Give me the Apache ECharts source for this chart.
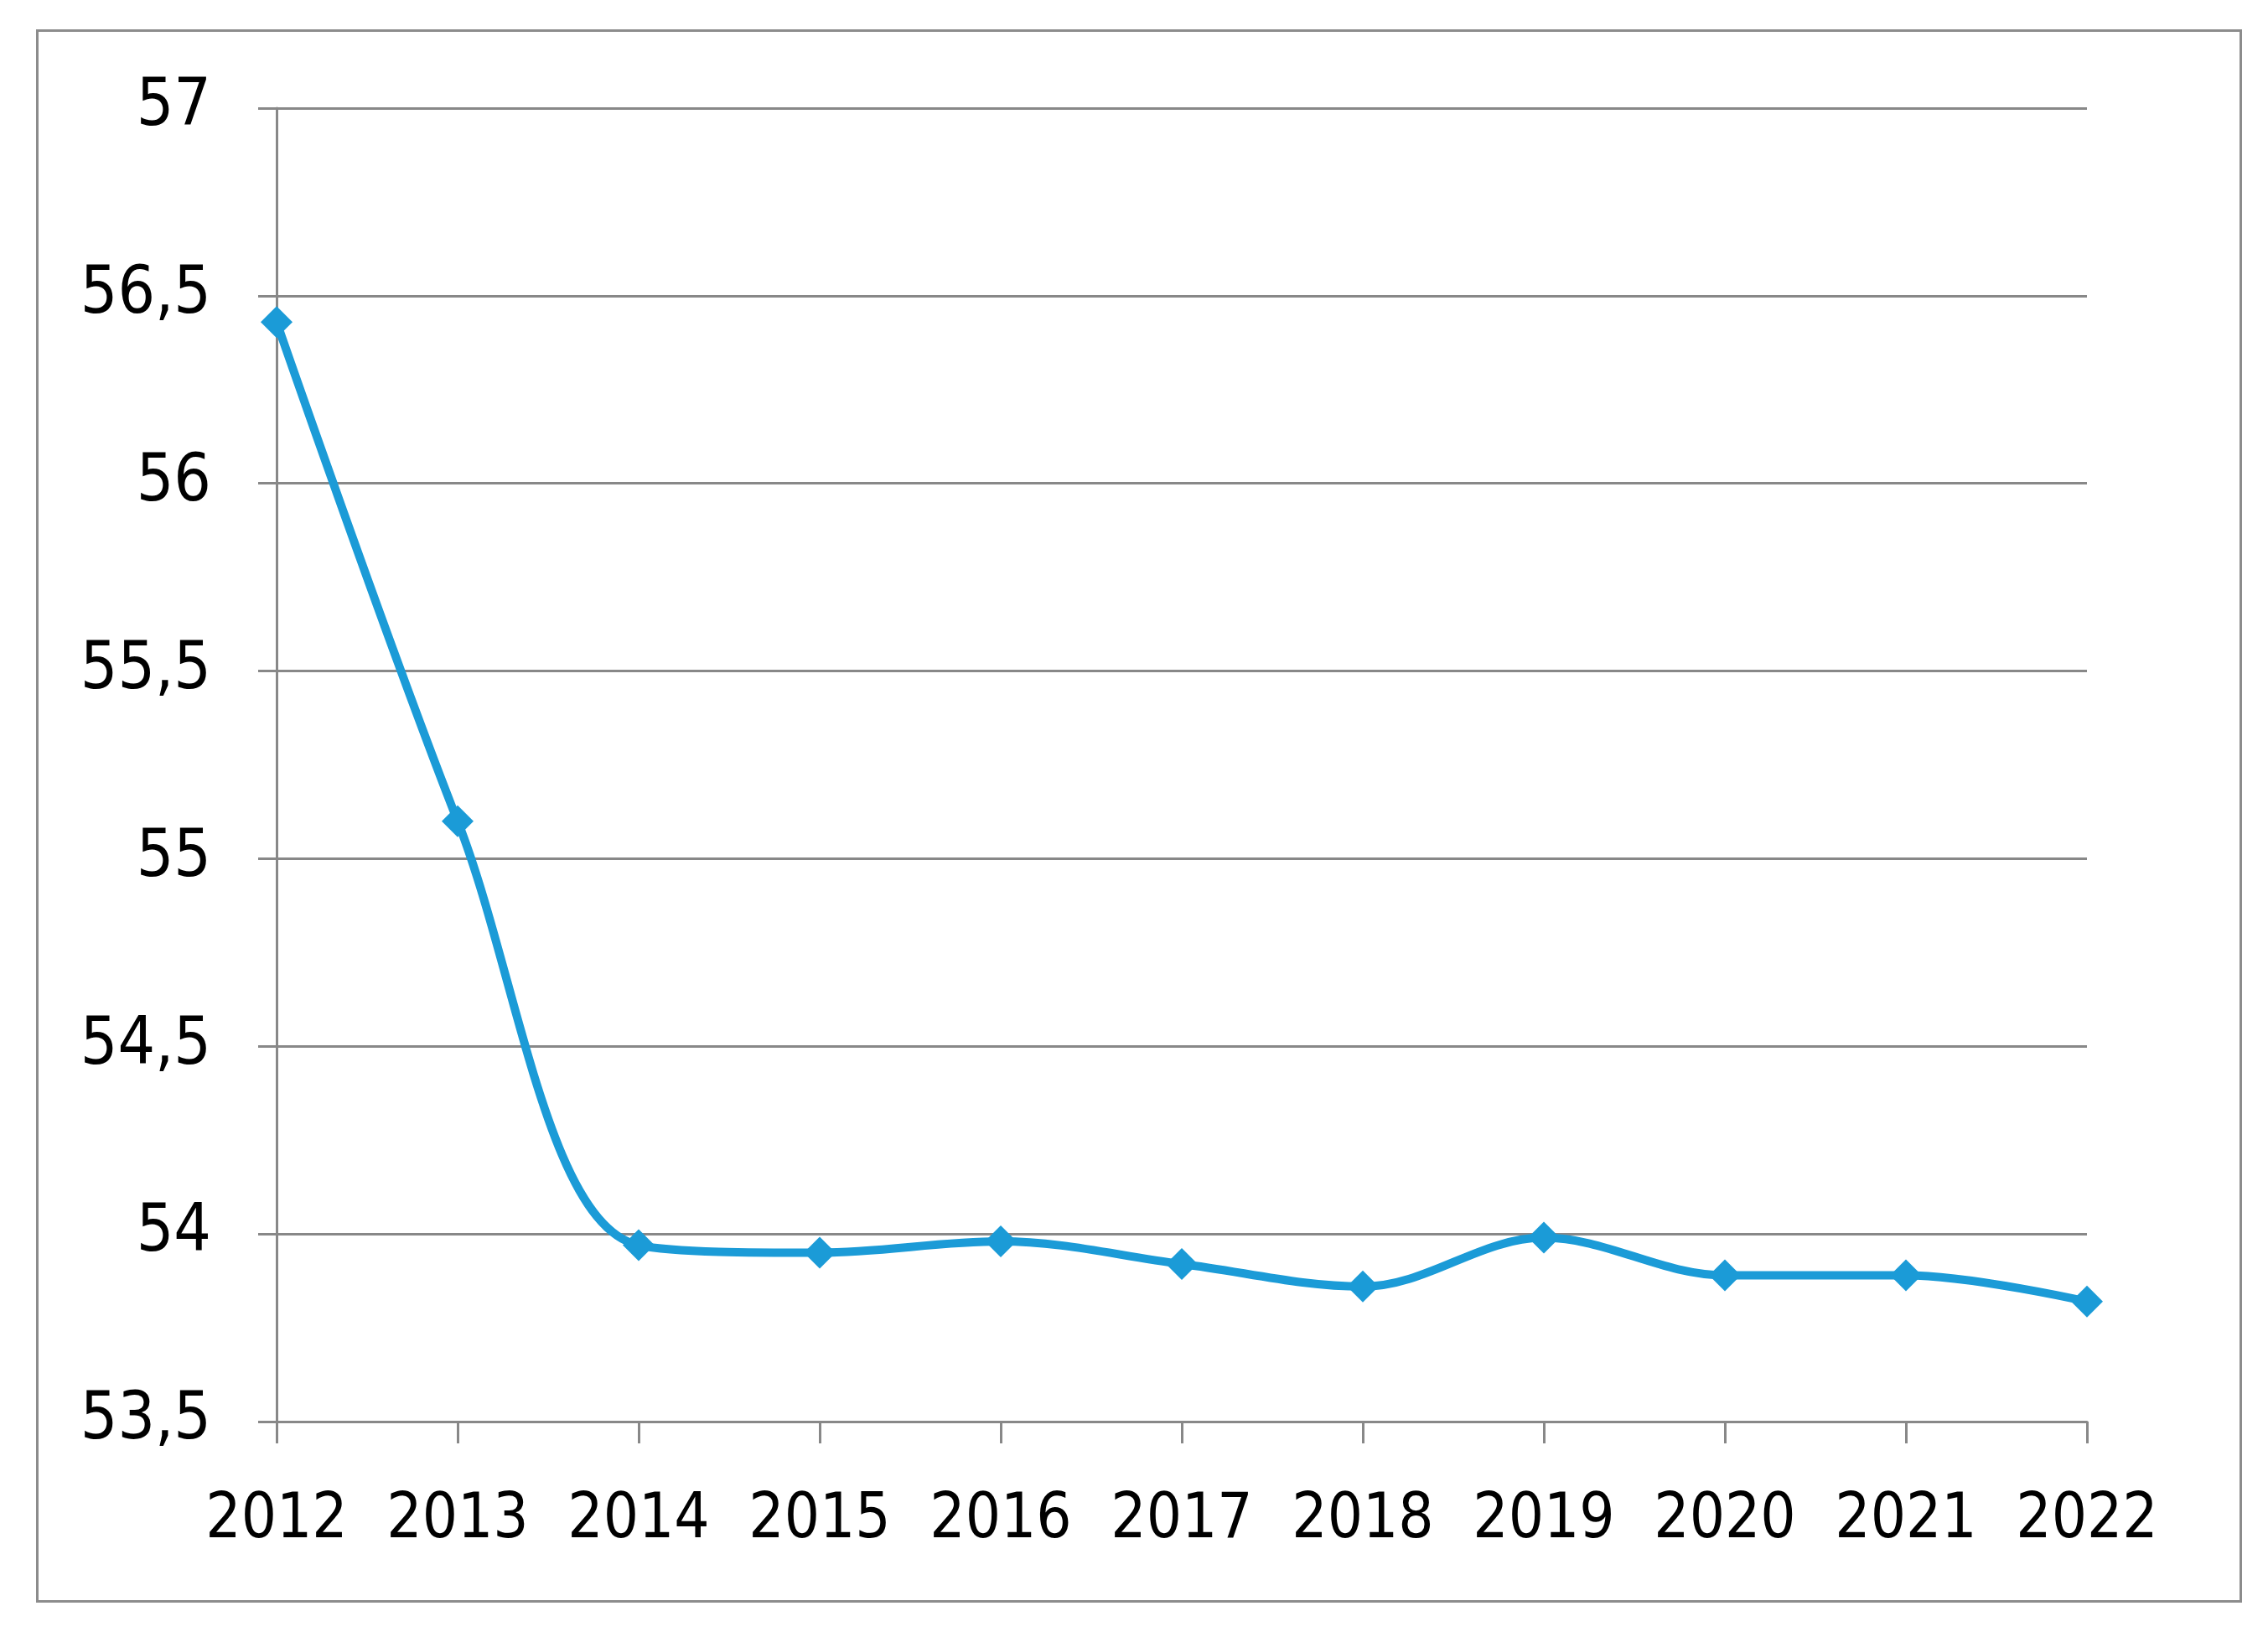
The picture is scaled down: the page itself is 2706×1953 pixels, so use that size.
<!DOCTYPE html>
<html style="height: 100%">
<head>
	<meta charset="utf-8">
</head>
<body style="height: 100%; margin: 0; background: #fff">
<div id="frame" style="position: absolute; left: 43px; top: 35px; width: 2626px; height: 1871px; border: 3px solid #8c8c8c"></div>
<div id="container" style="position: absolute; left: 0; top: 0; width: 2706px; height: 1953px"></div>
<script type="text/javascript" src="https://cdn.jsdelivr.net/npm/echarts@6/dist/echarts.min.js"></script>
<script type="text/javascript">
    var years = ['2012', '2013', '2014', '2015', '2016', '2017', '2018', '2019', '2020', '2021', '2022'];
    var values = [56.43, 55.10, 53.97, 53.95, 53.98, 53.92, 53.86, 53.99, 53.89, 53.89, 53.82];

    var font = '"Liberation Sans Narrow", "DejaVu Sans Condensed", sans-serif';
    var dom = document.getElementById("container");
    var myChart = echarts.init(dom);

    var option = {
        animation: false,
        grid: {
            left: 330,
            right: 216,
            top: 129,
            bottom: 257
        },
        xAxis: {
            type: 'category',
            data: years,
            boundaryGap: false,
            axisLine: { lineStyle: { color: '#888', width: 3 } },
            axisTick: { show: true, length: 26, interval: 0, lineStyle: { color: '#888', width: 3 } },
            axisLabel: { color: '#000', fontFamily: font, fontSize: 74, margin: 82, interval: 0 },
            splitLine: { show: false }
        },
        yAxis: {
            type: 'value',
            min: 53.5,
            max: 57,
            interval: 0.5,
            axisLine: { show: true, lineStyle: { color: '#888', width: 3 } },
            axisTick: { show: true, length: 22, lineStyle: { color: '#888', width: 3 } },
            axisLabel: {
                color: '#000',
                fontFamily: font,
                fontSize: 78,
                margin: 78,
                formatter: function (v) {
                    return String(v).replace('.', ',');
                }
            },
            splitLine: { show: true, lineStyle: { color: '#888', width: 3 } }
        },
        series: [{
            type: 'line',
            data: values,
            smooth: 0.35,
            symbol: 'diamond',
            symbolSize: 38,
            lineStyle: { color: '#1b9bd7', width: 10 },
            itemStyle: { color: '#1b9bd7' }
        }]
    };
    myChart.setOption(option);
</script>
</body>
</html>
